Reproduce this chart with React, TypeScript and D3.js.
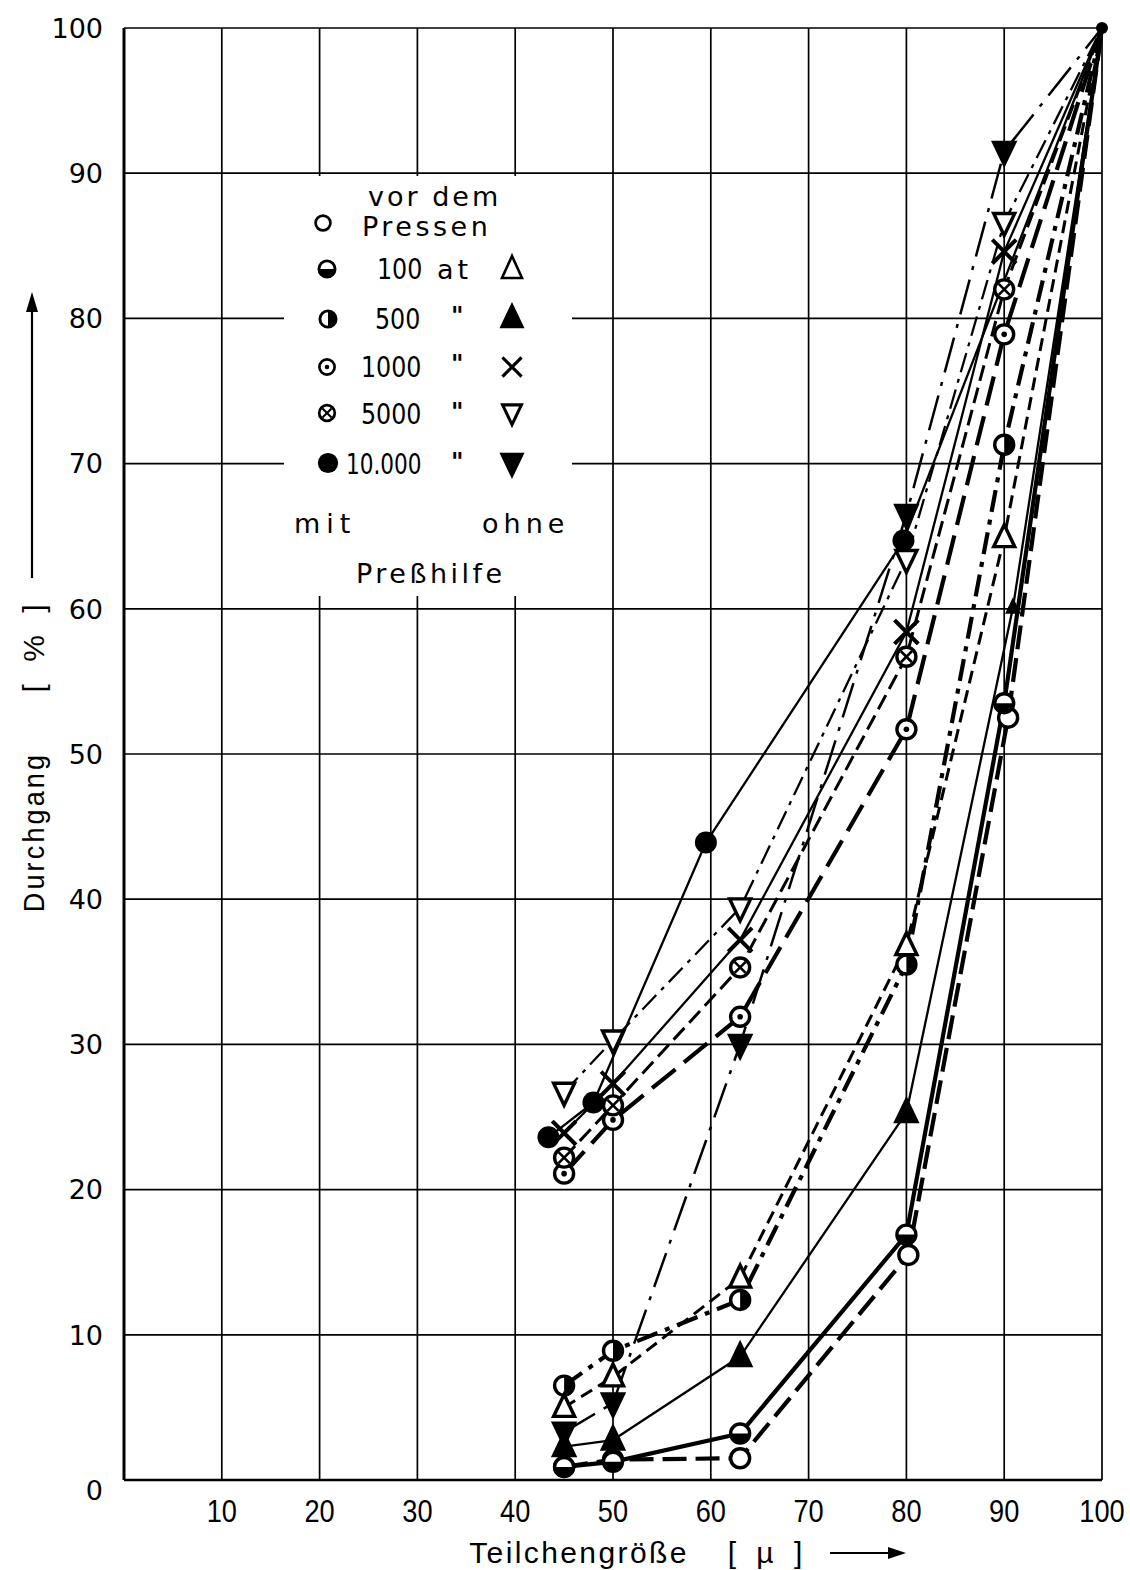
import React from 'react';
import * as d3 from 'd3';

// Sieve fractions (µm) and passing percentages
const sieveSizes = [45, 50, 63, 80, 90, 100];
const xTickValues = [10, 20, 30, 40, 50, 60, 70, 80, 90, 100];
const yTickValues = [0, 10, 20, 30, 40, 50, 60, 70, 80, 90, 100];

// "mit Preßhilfe" (circle symbols)
const vorDemPressenX = [45, 50, 63, 80.2, 90.4, 100];
const vorDemPressen = [0.9, 1.4, 1.5, 15.5, 52.5, 100];
const mit100 = [0.9, 1.25, 3.2, 16.9, 53.5, 100];
const mit500 = [6.5, 8.9, 12.4, 35.5, 71.3, 100];
const mit1000 = [21.1, 24.8, 31.9, 51.7, 78.9, 100];
const mit5000 = [22.2, 25.8, 35.3, 56.7, 82.0, 100];
const mit10000X = [43.4, 48.0, 59.5, 79.7, 100];
const mit10000 = [23.6, 26.0, 43.9, 64.7, 100];

// "ohne Preßhilfe" (triangle / cross symbols)
const ohne100 = [5.0, 7.1, 13.9, 36.8, 64.9, 100];
const ohne500X = [45, 50, 63, 80, 90.9, 100];
const ohne500 = [2.3, 2.75, 8.5, 25.3, 60.1, 100];
const ohne1000 = [23.9, 27.3, 37.2, 58.4, 84.6, 100];
const ohne5000 = [26.7, 30.3, 39.4, 63.4, 86.6, 100];
const ohne10000 = [3.3, 5.3, 30.0, 66.5, 91.5, 100];

type MarkerType =
  | 'open' | 'halfBottom' | 'halfRight' | 'dot' | 'cross' | 'filled'
  | 'triUp' | 'triUpFilled' | 'x' | 'triDown' | 'triDownFilled';

interface Series {
  xs: number[];
  ys: number[];
  marker: MarkerType;
  width: number;
  dash?: string;
}

const series: Series[] = [
  { xs: vorDemPressenX, ys: vorDemPressen, marker: 'open', width: 4.2, dash: '24,9' },
  { xs: sieveSizes, ys: mit100, marker: 'halfBottom', width: 4.2 },
  { xs: sieveSizes, ys: mit500, marker: 'halfRight', width: 4.2, dash: '22,8,5,8' },
  { xs: sieveSizes, ys: mit1000, marker: 'dot', width: 4.2, dash: '30,11' },
  { xs: sieveSizes, ys: mit5000, marker: 'cross', width: 3, dash: '16,7' },
  { xs: mit10000X, ys: mit10000, marker: 'filled', width: 2.3 },
  { xs: sieveSizes, ys: ohne100, marker: 'triUp', width: 3, dash: '13,7' },
  { xs: ohne500X, ys: ohne500, marker: 'triUpFilled', width: 2.3 },
  { xs: sieveSizes, ys: ohne1000, marker: 'x', width: 2.3 },
  { xs: sieveSizes, ys: ohne5000, marker: 'triDown', width: 2.3, dash: '20,7,4,7' },
  { xs: sieveSizes, ys: ohne10000, marker: 'triDownFilled', width: 2.5, dash: '36,10,4,10' },
];

const W = 1130;
const H = 1570;
const x = d3.scaleLinear().domain([0, 100]).range([124, 1102]);
const y = d3.scaleLinear().domain([0, 100]).range([1480, 28]);

function Marker({ cx, cy, type, s = 1 }: { cx: number; cy: number; type: MarkerType; s?: number }) {
  const r = 9.5 * s;
  const sw = 3.4 * s;
  switch (type) {
    case 'open':
      return <circle cx={cx} cy={cy} r={r} fill="#fff" stroke="#000" strokeWidth={sw} />;
    case 'halfBottom':
      return (
        <g>
          <circle cx={cx} cy={cy} r={r} fill="#fff" stroke="#000" strokeWidth={sw} />
          <path d={`M${cx - r},${cy} A${r},${r} 0 0 0 ${cx + r},${cy} Z`} fill="#000" />
        </g>
      );
    case 'halfRight':
      return (
        <g>
          <circle cx={cx} cy={cy} r={r} fill="#fff" stroke="#000" strokeWidth={sw} />
          <path d={`M${cx},${cy - r} A${r},${r} 0 0 1 ${cx},${cy + r} Z`} fill="#000" />
        </g>
      );
    case 'dot':
      return (
        <g>
          <circle cx={cx} cy={cy} r={r} fill="#fff" stroke="#000" strokeWidth={sw} />
          <circle cx={cx} cy={cy} r={2.8 * s} fill="#000" />
        </g>
      );
    case 'cross': {
      const d = r * 0.58;
      return (
        <g>
          <circle cx={cx} cy={cy} r={r} fill="#fff" stroke="#000" strokeWidth={sw} />
          <path d={`M${cx - d},${cy - d}L${cx + d},${cy + d}M${cx + d},${cy - d}L${cx - d},${cy + d}`} stroke="#000" strokeWidth={2.6 * s} />
        </g>
      );
    }
    case 'filled':
      return <circle cx={cx} cy={cy} r={r + 1.5 * s} fill="#000" />;
    case 'triUp':
    case 'triUpFilled': {
      const p = `${cx},${cy - 13 * s} ${cx - 10.5 * s},${cy + 9 * s} ${cx + 10.5 * s},${cy + 9 * s}`;
      return (
        <polygon points={p} fill={type === 'triUp' ? '#fff' : '#000'} stroke="#000" strokeWidth={sw} strokeLinejoin="miter" />
      );
    }
    case 'triDown':
    case 'triDownFilled': {
      const p = `${cx},${cy + 13 * s} ${cx - 10.5 * s},${cy - 9 * s} ${cx + 10.5 * s},${cy - 9 * s}`;
      return (
        <polygon points={p} fill={type === 'triDown' ? '#fff' : '#000'} stroke="#000" strokeWidth={sw} strokeLinejoin="miter" />
      );
    }
    case 'x': {
      const d = 10.5 * s;
      return (
        <path d={`M${cx - d},${cy - d}L${cx + d},${cy + d}M${cx + d},${cy - d}L${cx - d},${cy + d}`} stroke="#000" strokeWidth={4 * s} strokeLinecap="square" />
      );
    }
  }
  return null;
}

const line = d3
  .line<[number, number]>()
  .x((d) => x(d[0]))
  .y((d) => y(d[1]));

const narrow = 'Liberation Sans, Arial, sans-serif';
const wide = 'DejaVu Sans, Verdana, sans-serif';

export default function App() {
  return (
    <svg
      width={W}
      height={H}
      viewBox={`0 0 ${W} ${H}`}
      style={{ position: 'absolute', left: 0, top: 0, background: '#fff' }}
    >
      <rect x={0} y={0} width={W} height={H} fill="#fff" />

      {/* grid */}
      <g stroke="#000" strokeWidth={1.7}>
        {xTickValues.map((v) => (
          <line key={'gx' + v} x1={x(v)} x2={x(v)} y1={y(100)} y2={y(0)} />
        ))}
        {yTickValues.map((v) => (
          <line key={'gy' + v} x1={x(0)} x2={x(100)} y1={y(v)} y2={y(v)} />
        ))}
      </g>
      <line x1={x(0)} x2={x(0)} y1={y(100)} y2={y(0)} stroke="#000" strokeWidth={3} />
      <line x1={x(0)} x2={x(100)} y1={y(0)} y2={y(0)} stroke="#000" strokeWidth={2.5} />

      {/* legend panel blanks out the grid behind it */}
      <rect x={284} y={176} width={288} height={420} fill="#fff" />

      {/* y tick labels */}
      <g fontFamily={wide} fontSize={27} fill="#000">
        {yTickValues.map((v) => (
          <text key={'ty' + v} x={103} y={y(v) + (v === 0 ? 10 : 0)} dy="0.36em" textAnchor="end">
            {v}
          </text>
        ))}
      </g>

      {/* x tick labels */}
      <g fontFamily={narrow} fontSize={32} fill="#000">
        {xTickValues.map((v) => (
          <text key={'tx' + v} transform={`translate(${x(v)},1522) scale(0.85,1)`} textAnchor="middle">
            {v}
          </text>
        ))}
      </g>

      {/* axis titles */}
      <text
        transform="translate(44,832) rotate(-90) scale(0.9,1)"
        textAnchor="middle"
        fontFamily={narrow}
        fontSize={30}
        letterSpacing={3.5}
      >
        Durchgang
      </text>
      <text
        transform="translate(44,645) rotate(-90)"
        textAnchor="middle"
        fontFamily={narrow}
        fontSize={30}
        letterSpacing={7}
      >
        [ % ]
      </text>
      <line x1={32} x2={32} y1={578} y2={305} stroke="#000" strokeWidth={2.2} />
      <path d="M32,292 L26,312 L38,312 Z" fill="#000" />

      <text x={579} y={1563} textAnchor="middle" fontFamily={narrow} fontSize={30} letterSpacing={2.4}>
        Teilchengröße
      </text>
      <text x={768} y={1563} textAnchor="middle" fontFamily={narrow} fontSize={30} letterSpacing={6}>
        [ µ ]
      </text>
      <line x1={830} x2={892} y1={1553} y2={1553} stroke="#000" strokeWidth={2.2} />
      <path d="M906,1553 L888,1547 L888,1559 Z" fill="#000" />

      {/* curves */}
      <g fill="none" stroke="#000" strokeLinejoin="round">
        {series.map((s, i) => (
          <path
            key={'l' + i}
            d={line(s.xs.map((v, j) => [v, s.ys[j]] as [number, number])) || ''}
            strokeWidth={s.width}
            strokeDasharray={s.dash}
          />
        ))}
      </g>
      <circle cx={x(100)} cy={y(100)} r={6} fill="#000" />

      {/* markers */}
      {series.map((s, i) =>
        s.xs.map((v, j) =>
          s.ys[j] < 100 ? (
            <Marker
              key={'m' + i + '-' + j}
              cx={x(v)}
              cy={y(s.ys[j])}
              type={s.marker}
              s={s.marker === 'triUpFilled' && v > 90 ? 0.6 : 1}
            />
          ) : null
        )
      )}

      {/* legend */}
      <g fontFamily={wide} fontSize={27} fill="#000">
        <text x={368} y={206} letterSpacing={3}>vor dem</text>
        <text x={362} y={236} letterSpacing={3.5}>Pressen</text>
        <text transform="translate(377,279) scale(0.88,1.05)">100</text>
        <text x={437} y={279} letterSpacing={4}>at</text>
        <text transform="translate(375,329) scale(0.88,1.05)">500</text>
        <text transform="translate(361,377) scale(0.88,1.05)">1000</text>
        <text transform="translate(361,424) scale(0.88,1.05)">5000</text>
        <text transform="translate(346,474) scale(0.8,1.05)">10.000</text>
        {[324, 372, 420, 470].map((yy) => (
          <text key={'q' + yy} x={451} y={yy} fontSize={24} fontWeight="bold">"</text>
        ))}
        <text x={294} y={533} letterSpacing={6}>mit</text>
        <text x={482} y={533} letterSpacing={5}>ohne</text>
        <text x={356} y={583} letterSpacing={3.5}>Preßhilfe</text>
      </g>
      <Marker cx={323} cy={223} type="open" s={0.78} />
      <Marker cx={327} cy={269} type="halfBottom" s={0.85} />
      <Marker cx={328} cy={319} type="halfRight" s={0.85} />
      <Marker cx={327} cy={367} type="dot" s={0.8} />
      <Marker cx={327} cy={413} type="cross" s={0.82} />
      <Marker cx={328} cy={463} type="filled" s={0.92} />
      <path d="M512,256 L502,278 L522,278 Z" fill="none" stroke="#000" strokeWidth={2.6} />
      <Marker cx={512} cy={318} type="triUpFilled" s={0.95} />
      <Marker cx={512} cy={367} type="x" s={0.8} />
      <Marker cx={512} cy={413} type="triDown" s={0.9} />
      <Marker cx={512} cy={463} type="triDownFilled" s={0.95} />
    </svg>
  );
}
